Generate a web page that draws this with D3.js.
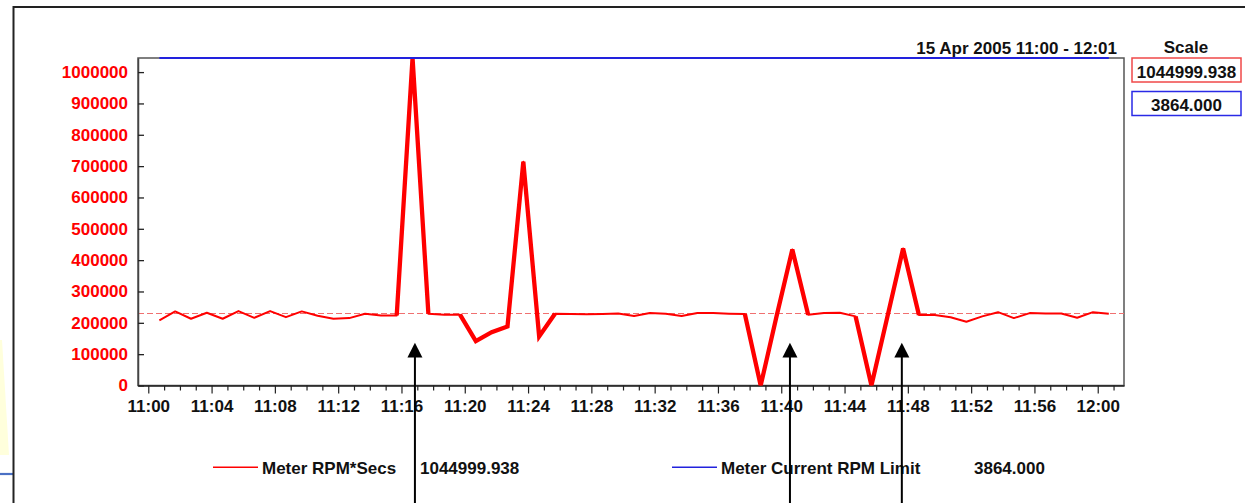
<!DOCTYPE html>
<html>
<head>
<meta charset="utf-8">
<script src="https://cdn.jsdelivr.net/npm/d3@7/dist/d3.min.js"></script>
<style>
  html, body { margin: 0; padding: 0; background: #ffffff; }
  svg { display: block; font-family: "Liberation Sans", Arial, Helvetica, sans-serif; font-weight: bold; }
</style>
</head>
<body>
<svg id="chart" width="1245" height="503"></svg>
<script>
// ---------------- DATA ----------------
const chartTitle = "15 Apr 2005 11:00 - 12:01";
const seriesNames = ["Meter RPM*Secs", "Meter Current RPM Limit"];
const scaleMaxima = [1044999.938, 3864.000];
const scaleLabels = ["1044999.938", "3864.000"];
// sample times: minutes after 11:00 (one sample each minute, 42 s past)
const sampleMinutes = d3.range(61).map(k => k + 0.7);
// Meter RPM*Secs values
const rpmSecs = [
  208000, 236500, 213000, 232000, 213000, 237500, 216000, 237500, 218000, 236500,
  222700, 213000, 215000, 229000, 223700, 223700, 1044999.938, 229000, 226000, 226000,
  141500, 170000, 188500, 714000, 156600, 229000, 228000, 227000, 228000, 230000,
  221500, 231000, 229000, 221500, 231000, 231000, 229000, 228000, 0, 220000,
  434000, 226000, 231000, 232000, 220500, 0, 218000, 437000, 225000, 225000,
  218000, 203500, 220500, 234000, 215000, 231000, 230000, 230000, 216000, 234000,
  229000
];
// Meter Current RPM Limit values
const rpmLimit = sampleMinutes.map(() => 3864.000);
// reference (baseline) level shown dashed
const baselineValue = 230000;
const alarmDeviation = 35000;
// y tick values
const yTickValues = d3.range(0, 1000001, 100000);
// annotation arrows (minutes after 11:00)
const arrowMinutes = [16.85, 40.55, 47.62];

// ---------------- SETUP ----------------
const svg = d3.select("#chart");
const base = new Date(2005, 3, 15, 11, 0, 0);
const toTime = m => new Date(base.getTime() + m * 60000);

const plot = { left: 138, right: 1124, top: 58, bottom: 385.5 };

const x = d3.scaleTime()
  .domain([toTime(-0.65), toTime(61.66)])
  .range([plot.left, plot.right]);
const y = d3.scaleLinear().domain([0, scaleMaxima[0]]).range([plot.bottom, plot.top]);
const y2 = d3.scaleLinear().domain([0, scaleMaxima[1]]).range([plot.bottom, plot.top]);

// ---- outer frame & left decorations ----
svg.append("polygon")
  .attr("points", "0,340 2,340 9,455 0,455")
  .attr("fill", "#ffffdc");
svg.append("line").attr("x1", 0).attr("x2", 13).attr("y1", 474).attr("y2", 474)
  .attr("stroke", "#4a70c4").attr("stroke-width", 2.2);
svg.append("line").attr("x1", 13.5).attr("x2", 13.5).attr("y1", 6).attr("y2", 503)
  .attr("stroke", "#222").attr("stroke-width", 2);
svg.append("line").attr("x1", 13).attr("x2", 1245).attr("y1", 7).attr("y2", 7)
  .attr("stroke", "#222").attr("stroke-width", 2);

// ---- plot box ----
svg.append("rect")
  .attr("x", plot.left).attr("y", plot.top)
  .attr("width", plot.right - plot.left).attr("height", plot.bottom - plot.top)
  .attr("fill", "none").attr("stroke", "#555").attr("stroke-width", 1.5);

svg.append("clipPath").attr("id", "clip")
  .append("rect").attr("x", plot.left).attr("y", plot.top - 1)
  .attr("width", plot.right - plot.left).attr("height", plot.bottom - plot.top + 1);

// ---- baseline dashed ----
svg.append("line")
  .attr("x1", plot.left).attr("x2", plot.right)
  .attr("y1", Math.round(y(baselineValue)) + 0.5).attr("y2", Math.round(y(baselineValue)) + 0.5)
  .attr("stroke", "#f07070").attr("stroke-width", 1)
  .attr("stroke-dasharray", "6,3");

// ---- Y axis ----
const yAxis = d3.axisLeft(y).tickValues(yTickValues).tickSize(-6).tickSizeOuter(0)
  .tickPadding(10).tickFormat(d3.format("d"));
const gy = svg.append("g").attr("transform", `translate(${plot.left},0)`).call(yAxis);
gy.select(".domain").attr("stroke", "#444").attr("stroke-width", 1.5);
gy.selectAll(".tick line").attr("stroke", "#222").attr("stroke-width", 1.3);
gy.selectAll(".tick text").attr("fill", "#ff0000")
  .style("font-size", "17px").style("font-weight", "bold")
  .style("font-family", "'Liberation Sans', Arial, sans-serif");

// ---- X axis ----
const xAxis = d3.axisBottom(x).ticks(d3.timeMinute.every(1)).tickSize(4).tickSizeOuter(0)
  .tickPadding(10)
  .tickFormat(d => (d.getMinutes() % 4 === 0) ? d3.timeFormat("%H:%M")(d) : "");
const gx = svg.append("g").attr("transform", `translate(0,${plot.bottom})`).call(xAxis);
gx.select(".domain").attr("stroke", "#222").attr("stroke-width", 1.5);
gx.selectAll(".tick line").attr("stroke", "#222").attr("stroke-width", 1.2)
  .attr("y2", d => (d.getMinutes() % 4 === 0) ? 8 : 5);
gx.selectAll(".tick text").attr("fill", "#111")
  .style("font-size", "17px").style("font-weight", "bold")
  .style("font-family", "'Liberation Sans', Arial, sans-serif");

// ---- series ----
const pts = sampleMinutes.map((m, i) => ({ t: toTime(m), v: rpmSecs[i], l: rpmLimit[i] }));
const lineRed = d3.line().x(d => x(d.t)).y(d => y(d.v));
const lineBlue = d3.line().x(d => x(d.t)).y(d => y2(d.l));

const gSeries = svg.append("g").attr("clip-path", "url(#clip)");
gSeries.append("path").datum(pts)
  .attr("d", lineRed).attr("fill", "none")
  .attr("stroke", "#ff0000").attr("stroke-width", 2).attr("stroke-linejoin", "round");

// thick runs where a segment touches an alarm sample
const isAlarm = v => Math.abs(v - baselineValue) > alarmDeviation;
const runs = [];
let cur = null;
for (let i = 0; i < pts.length - 1; i++) {
  const thick = isAlarm(pts[i].v) || isAlarm(pts[i + 1].v);
  if (thick) {
    if (!cur) { cur = [pts[i]]; runs.push(cur); }
    cur.push(pts[i + 1]);
  } else cur = null;
}
gSeries.selectAll("path.thick").data(runs).enter().append("path")
  .attr("class", "thick")
  .attr("d", lineRed).attr("fill", "none")
  .attr("stroke", "#ff0000").attr("stroke-width", 4.3)
  .attr("stroke-linejoin", "miter").attr("stroke-miterlimit", 4);

svg.append("path").datum(pts)
  .attr("d", lineBlue).attr("fill", "none")
  .attr("stroke", "#2222dd").attr("stroke-width", 2);

// ---- title & scale boxes ----
svg.append("text").attr("x", 1117).attr("y", 54).attr("text-anchor", "end")
  .style("font-size", "17px").attr("fill", "#111").text(chartTitle);
svg.append("text").attr("x", 1186).attr("y", 53).attr("text-anchor", "middle")
  .style("font-size", "17px").attr("fill", "#111").text("Scale");

const boxColors = ["#f04848", "#2a2ae6"];
const boxTops = [58, 91.5];
scaleLabels.forEach((lab, i) => {
  svg.append("rect").attr("x", 1132).attr("y", boxTops[i]).attr("width", 109).attr("height", 24)
    .attr("fill", "#fff").attr("stroke", boxColors[i]).attr("stroke-width", 1.5);
  svg.append("text").attr("x", 1186.5).attr("y", boxTops[i] + 19.5).attr("text-anchor", "middle")
    .style("font-size", "17px").attr("fill", "#111").text(lab);
});

// ---- legend ----
const legend = [
  { name: seriesNames[0], value: scaleLabels[0], color: "#ff0000", lx: 213, tx: 262, vx: 420 },
  { name: seriesNames[1], value: scaleLabels[1], color: "#2222dd", lx: 672, tx: 721, vx: 974 }
];
legend.forEach(l => {
  svg.append("line").attr("x1", l.lx).attr("x2", l.lx + 45).attr("y1", 467.3).attr("y2", 467.3)
    .attr("stroke", l.color).attr("stroke-width", 1.5);
  svg.append("text").attr("x", l.tx).attr("y", 474).style("font-size", "17px")
    .attr("fill", "#111").text(l.name);
  svg.append("text").attr("x", l.vx).attr("y", 474).style("font-size", "17px")
    .attr("fill", "#111").text(l.value);
});

// ---- arrows ----
arrowMinutes.forEach(m => {
  const ax = x(toTime(m));
  svg.append("line").attr("x1", ax).attr("x2", ax).attr("y1", 503).attr("y2", 352)
    .attr("stroke", "#000").attr("stroke-width", 2);
  svg.append("path")
    .attr("d", `M${ax},342.7 L${ax - 7.5},357.5 L${ax + 7.5},357.5 Z`)
    .attr("fill", "#000");
});
</script>
</body>
</html>
